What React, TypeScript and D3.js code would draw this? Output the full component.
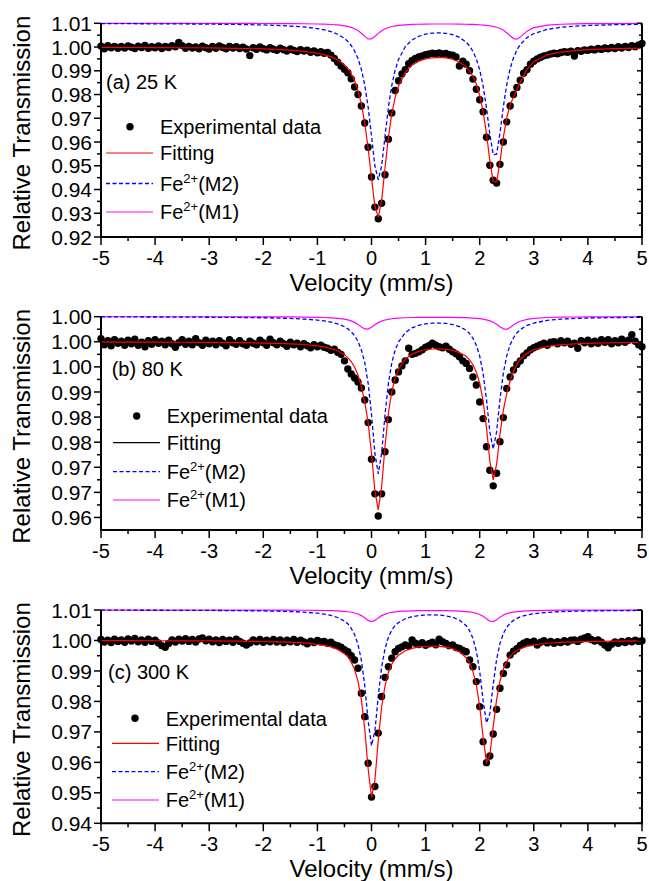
import React from 'react';
import * as d3 from 'd3';

const FONT = "'Liberation Sans', Arial, Helvetica, sans-serif";

// shared channel velocities (mm/s)
const velocity = [
  -5,-4.9375,-4.875,-4.8125,-4.75,-4.6875,-4.625,-4.5625,-4.5,-4.4375,-4.375,-4.3125,-4.25,-4.1875,-4.125,-4.0625,
  -4,-3.9375,-3.875,-3.8125,-3.75,-3.6875,-3.625,-3.5625,-3.5,-3.4375,-3.375,-3.3125,-3.25,-3.1875,-3.125,-3.0625,
  -3,-2.9375,-2.875,-2.8125,-2.75,-2.6875,-2.625,-2.5625,-2.5,-2.4375,-2.375,-2.3125,-2.25,-2.1875,-2.125,-2.0625,
  -2,-1.9375,-1.875,-1.8125,-1.75,-1.6875,-1.625,-1.5625,-1.5,-1.4375,-1.375,-1.3125,-1.25,-1.1875,-1.125,-1.0625,
  -1,-0.9375,-0.875,-0.8125,-0.75,-0.6875,-0.625,-0.5625,-0.5,-0.4375,-0.375,-0.3125,-0.25,-0.1875,-0.125,-0.0625,
  0,0.0625,0.125,0.1875,0.25,0.3125,0.375,0.4375,0.5,0.5625,0.625,0.6875,0.75,0.8125,0.875,0.9375,
  1,1.0625,1.125,1.1875,1.25,1.3125,1.375,1.4375,1.5,1.5625,1.625,1.6875,1.75,1.8125,1.875,1.9375,
  2,2.0625,2.125,2.1875,2.25,2.3125,2.375,2.4375,2.5,2.5625,2.625,2.6875,2.75,2.8125,2.875,2.9375,
  3,3.0625,3.125,3.1875,3.25,3.3125,3.375,3.4375,3.5,3.5625,3.625,3.6875,3.75,3.8125,3.875,3.9375,
  4,4.0625,4.125,4.1875,4.25,4.3125,4.375,4.4375,4.5,4.5625,4.625,4.6875,4.75,4.8125,4.875,4.9375,
  5
];

// experimental data (relative transmission)
const transA = [
  1.0004,0.9993,1.0006,0.9997,1.0003,0.9995,1.0002,0.9996,1.0005,0.9999,0.9994,1.0004,0.9998,1.0007,0.9995,1.0001,
  0.9997,1.0005,0.9994,1.0002,0.9998,1.0006,1.0001,1.0019,1.0006,0.9995,1.0003,0.9996,1.0000,0.9993,1.0004,0.9997,
  0.9992,1.0003,0.9995,1.0005,0.9998,0.9993,1.0002,0.9996,1.0001,0.9994,0.9999,0.9992,0.9964,0.9997,0.9991,1.0000,
  0.9993,0.9988,0.9997,0.9991,0.9986,0.9995,0.9989,0.9983,0.9992,0.9986,0.9981,0.9989,0.9983,0.9987,0.9978,0.9984,
  0.9976,0.9980,0.9974,0.9977,0.9966,0.9952,0.9936,0.9920,0.9906,0.9892,0.9866,0.9832,0.9800,0.9752,0.9680,0.9578,
  0.9453,0.9326,0.9277,0.9342,0.9462,0.9612,0.9722,0.9817,0.9858,0.9887,0.9905,0.9930,0.9944,0.9952,0.9958,0.9963,
  0.9968,0.9971,0.9974,0.9972,0.9975,0.9971,0.9973,0.9968,0.9966,0.9958,0.9920,0.9940,0.9928,0.9900,0.9865,0.9822,
  0.9778,0.9728,0.9620,0.9502,0.9439,0.9427,0.9506,0.9600,0.9685,0.9752,0.9800,0.9830,0.9860,0.9890,0.9905,0.9928,
  0.9940,0.9950,0.9957,0.9963,0.9966,0.9971,0.9974,0.9972,0.9977,0.9980,0.9978,0.9983,0.9962,0.9985,0.9982,0.9988,
  0.9986,0.9991,0.9988,0.9994,0.9990,0.9996,0.9993,0.9998,0.9994,1.0001,0.9996,1.0003,0.9998,1.0006,1.0001,1.0009,
  1.0015
];
const transB = [
  1.0006,0.9994,1.0002,0.9992,1.0004,0.9997,1.0001,0.9993,1.0003,0.9996,1.0005,0.9993,0.9999,0.9990,1.0002,0.9995,
  1.0004,0.9997,1.0001,0.9994,1.0003,0.9996,0.9989,0.9998,1.0004,0.9995,1.0001,0.9994,1.0006,0.9998,0.9993,1.0003,
  0.9996,1.0001,0.9994,1.0002,0.9997,0.9992,1.0004,0.9998,0.9995,1.0002,0.9996,0.9993,1.0001,0.9997,0.9994,1.0003,
  0.9998,0.9993,1.0005,0.9998,0.9994,1.0001,0.9996,0.9991,0.9999,0.9994,0.9997,0.9990,0.9996,0.9992,0.9988,0.9994,
  0.9990,0.9993,0.9989,0.9987,0.9983,0.9985,0.9979,0.9975,0.9962,0.9946,0.9936,0.9928,0.9920,0.9908,0.9884,0.9839,
  0.9766,0.9697,0.9653,0.9697,0.9781,0.9845,0.9900,0.9924,0.9940,0.9952,0.9962,0.9987,0.9975,0.9977,0.9980,0.9984,
  0.9989,0.9992,0.9997,0.9993,0.9990,0.9988,0.9991,0.9985,0.9980,0.9976,0.9970,0.9962,0.9957,0.9947,0.9930,0.9914,
  0.9880,0.9847,0.9791,0.9744,0.9713,0.9738,0.9801,0.9849,0.9907,0.9930,0.9944,0.9955,0.9962,0.9972,0.9978,0.9984,
  0.9988,0.9991,0.9994,0.9997,0.9993,0.9999,1.0000,0.9996,1.0002,0.9998,1.0001,0.9995,0.9997,0.9987,1.0002,0.9998,
  1.0003,0.9996,1.0001,0.9997,1.0004,0.9999,1.0004,0.9996,1.0002,0.9998,1.0005,0.9999,1.0003,1.0014,1.0001,0.9994,
  0.9990
];
const transC = [
  1.0003,0.9995,1.0001,0.9993,1.0004,0.9997,1.0002,0.9994,1.0005,0.9998,1.0007,0.9996,1.0002,0.9994,1.0004,0.9997,
  1.0001,0.9992,0.9983,0.9978,0.9990,1.0002,0.9995,1.0004,0.9998,1.0006,0.9997,1.0003,0.9995,1.0005,1.0008,0.9999,
  1.0004,0.9996,1.0002,0.9993,1.0003,0.9997,1.0001,0.9994,1.0004,0.9997,0.9991,0.9985,0.9992,1.0002,0.9996,1.0003,
  0.9994,1.0001,0.9996,1.0003,0.9995,1.0002,0.9993,1.0001,0.9996,1.0003,0.9994,1.0001,0.9995,0.9989,0.9998,0.9993,
  1.0000,0.9995,0.9997,0.9991,0.9994,0.9986,0.9983,0.9978,0.9970,0.9963,0.9950,0.9936,0.9909,0.9827,0.9750,0.9597,
  0.9486,0.9521,0.9696,0.9816,0.9879,0.9914,0.9942,0.9963,0.9974,0.9979,0.9985,0.9982,1.0002,0.9991,0.9987,0.9993,
  0.9984,0.9989,0.9994,0.9986,1.0004,0.9996,0.9990,0.9983,0.9985,0.9977,0.9974,0.9967,0.9963,0.9936,0.9914,0.9865,
  0.9783,0.9668,0.9599,0.9621,0.9693,0.9774,0.9843,0.9892,0.9920,0.9952,0.9965,0.9973,0.9984,0.9991,0.9996,0.9993,
  0.9998,0.9985,0.9994,0.9999,0.9992,0.9997,0.9991,0.9996,0.9993,0.9999,0.9995,1.0001,1.0002,0.9997,1.0004,1.0008,
  1.0012,1.0003,0.9998,1.0002,0.9994,0.9985,0.9976,0.9988,0.9995,0.9991,0.9997,0.9993,0.9999,0.9996,1.0001,0.9997,
  0.9999
];

// velocities at which the fitted curves are drawn
const curveVelocity = [
  -5,-4.5,-4,-3.5,-3,-2.5,-2,-1.75,-1.5,-1.25,-1,-0.875,-0.75,-0.625,-0.5,
  -0.4375,-0.375,-0.3125,-0.25,-0.1875,-0.125,-0.0625,0,0.0625,0.125,0.1875,0.25,0.3125,0.375,0.4375,0.5,
  0.625,0.75,0.875,1,1.125,1.25,1.375,1.5,1.625,1.75,1.8125,1.875,1.9375,2,
  2.0625,2.125,2.1875,2.25,2.3125,2.375,2.4375,2.5,2.5625,2.625,2.6875,2.75,
  2.875,3,3.25,3.5,3.75,4,4.5,5
];

const fitA = [
  0.99985,0.99981,0.99977,0.9997,0.99961,0.99947,0.99922,0.99901,0.99872,0.99815,0.9974,0.99682,0.99594,0.99459,0.99246,
  0.99086,0.98873,0.98583,0.98177,0.97602,0.968,0.95744,0.94487,0.93304,0.92839,0.93543,0.94904,0.96208,0.97192,0.97882,0.98358,
  0.98933,0.99236,0.99406,0.995,0.99548,0.99563,0.99543,0.99486,0.99372,0.99165,0.98997,0.98768,0.98443,0.97971,
  0.9729,0.9635,0.9522,0.94334,0.94324,0.95162,0.96204,0.97025,0.9756,0.979,0.982,0.9852,
  0.99066,0.99384,0.99672,0.9979,0.99853,0.99891,0.99931,0.99954
];
const m2A = [
  1.00986,1.00983,1.00979,1.00973,1.00965,1.00952,1.0093,1.00911,1.00885,1.00846,1.00779,1.00726,1.00651,1.0054,1.00363,
  1.00236,1.00066,0.99836,0.99516,0.99063,0.98409,0.9748,0.96254,0.94997,0.94412,0.94991,0.96243,0.97463,0.98387,0.99035,0.99481,
  1.00017,1.00298,1.00455,1.00542,1.00585,1.00597,1.00576,1.00519,1.0041,1.00206,1.00043,0.99819,0.99499,0.99036,
  0.98366,0.97438,0.96327,0.95466,0.95491,0.9638,0.97496,0.98421,0.99087,0.9955,0.99874,1.00104,
  1.00397,1.00568,1.00746,1.0083,1.00878,1.00908,1.00941,1.00959
];
const m1A = [
  1.00999,1.00998,1.00998,1.00997,1.00996,1.00995,1.00992,1.0099,1.00986,1.00981,1.00971,1.00962,1.0095,1.0093,1.00894,
  1.00867,1.00828,1.00773,1.00694,1.00583,1.0045,1.00344,1.00341,1.00444,1.00577,1.00689,1.00769,1.00825,1.00864,1.00891,1.0091,
  1.00937,1.00952,1.00961,1.00966,1.0097,1.00971,1.00971,1.0097,1.00967,1.00961,1.00957,1.00952,1.00947,1.00938,
  1.00927,1.00914,1.00896,1.0087,1.00835,1.00784,1.0071,1.00606,1.00475,1.00357,1.00331,1.00418,
  1.00669,1.00816,1.00926,1.0096,1.00975,1.00983,1.0099,1.00995
];
const fitB = [
  0.99995,0.99994,0.99993,0.99991,0.99988,0.99984,0.99975,0.99969,0.9996,0.99946,0.99917,0.99897,0.99867,0.9982,0.99744,
  0.99686,0.99607,0.99496,0.99337,0.99111,0.98798,0.98388,0.9778,0.97035,0.9665,0.97107,0.97922,0.98578,0.99009,0.99284,0.99452,
  0.99653,0.99754,0.99808,0.99842,0.99856,0.9986,0.99851,0.99828,0.99785,0.9971,0.99639,0.99542,0.99398,0.99176,
  0.98824,0.98289,0.97624,0.9725,0.97559,0.98156,0.98637,0.98972,0.99223,0.99414,0.99554,0.99652,
  0.99773,0.99841,0.9991,0.99941,0.99959,0.99969,0.99981,0.99987
];
const m2B = [
  1.00496,1.00495,1.00494,1.00492,1.00489,1.00485,1.00479,1.00473,1.00465,1.00453,1.00432,1.00415,1.00392,1.00356,1.003,
  1.00258,1.00201,1.00123,1.0001,0.99842,0.99583,0.99176,0.98552,0.97782,0.97368,0.97781,0.9855,0.99172,0.99579,0.99837,0.99997,
  1.00183,1.00279,1.00329,1.00357,1.0037,1.00373,1.00365,1.00343,1.00302,1.0023,1.00163,1.0007,0.99931,0.99716,
  0.99374,0.98852,0.98207,0.97861,0.98209,0.98855,0.99379,0.99723,0.9994,1.00081,1.00176,1.00243,
  1.00326,1.00374,1.00427,1.00451,1.00465,1.00473,1.00483,1.00488
];
const m1B = [
  1.005,1.00499,1.00499,1.00499,1.00499,1.00498,1.00497,1.00496,1.00495,1.00492,1.00488,1.00484,1.00478,1.00468,1.00451,
  1.00437,1.00417,1.00387,1.00347,1.00297,1.00256,1.00254,1.0029,1.0034,1.00382,1.00413,1.00434,1.00448,1.00459,1.00467,1.00471,
  1.00479,1.00484,1.00486,1.00488,1.00488,1.00489,1.00487,1.00486,1.00483,1.0048,1.00476,1.00472,1.00467,1.0046,
  1.0045,1.00437,1.00417,1.00389,1.0035,1.00301,1.00258,1.00249,1.00284,1.00333,1.00378,1.00409,
  1.00448,1.00468,1.00484,1.0049,1.00494,1.00496,1.00498,1.00499
];
const fitC = [
  0.99994,0.99992,0.99991,0.99988,0.99984,0.99978,0.99966,0.99957,0.99944,0.99922,0.99875,0.99841,0.99789,0.99707,0.99566,
  0.99468,0.99289,0.99047,0.98669,0.98064,0.97101,0.9579,0.94868,0.95404,0.96729,0.97817,0.98514,0.98947,0.99222,0.99401,0.99513,
  0.99662,0.99742,0.99787,0.9981,0.99817,0.99809,0.99784,0.99731,0.99632,0.99434,0.99259,0.98985,0.98546,0.9784,
  0.96833,0.96007,0.96234,0.97182,0.98061,0.9867,0.99062,0.99313,0.99479,0.99591,0.99671,0.99729,
  0.99808,0.99856,0.99908,0.99939,0.99955,0.99965,0.99978,0.99984
];
const m2C = [
  1.00994,1.00993,1.00992,1.00989,1.00986,1.0098,1.0097,1.00962,1.0095,1.00931,1.00895,1.00866,1.00823,1.00754,1.00634,
  1.00552,1.004,1.00195,0.99874,0.99356,0.98523,0.97372,0.96547,0.97013,0.98177,0.99127,0.99732,1.00105,1.0034,1.00494,1.00587,
  1.00713,1.00781,1.00818,1.00837,1.00841,1.00833,1.00809,1.00761,1.0067,1.00487,1.00323,1.00067,0.99654,0.98987,
  0.9804,0.97294,0.97597,0.9856,0.99378,0.99904,1.00228,1.00433,1.00568,1.00659,1.00725,1.00773,
  1.00838,1.00879,1.00922,1.00946,1.0096,1.00969,1.0098,1.00986
];
const m1C = [
  1.00999,1.00999,1.00999,1.00998,1.00998,1.00997,1.00996,1.00995,1.00994,1.00991,1.00986,1.00983,1.00977,1.00969,1.00954,
  1.00943,1.00927,1.00903,1.00868,1.00816,1.00742,1.00659,1.00618,1.00658,1.00741,1.00815,1.00866,1.00901,1.00925,1.0094,1.00952,
  1.00966,1.00973,1.00978,1.0098,1.00981,1.0098,1.00978,1.00973,1.00964,1.00949,1.00936,1.00918,1.00892,1.00853,
  1.00793,1.00713,1.00637,1.00622,1.00683,1.00766,1.00834,1.0088,1.00912,1.00933,1.00947,1.00957,
  1.00971,1.00978,1.00987,1.00993,1.00995,1.00996,1.00998,1.00998
];

// axis ticks
const xTickValues = [-5, -4, -3, -2, -1, 0, 1, 2, 3, 4, 5];
const xTickLabels = ['-5', '-4', '-3', '-2', '-1', '0', '1', '2', '3', '4', '5'];
const yTicksA = [1.01, 1.0, 0.99, 0.98, 0.97, 0.96, 0.95, 0.94, 0.93, 0.92];
const yLabelsA = ['1.01', '1.00', '0.99', '0.98', '0.97', '0.96', '0.95', '0.94', '0.93', '0.92'];
const yTicksB = [1.005, 1.0, 0.995, 0.99, 0.985, 0.98, 0.975, 0.97, 0.965];
const yLabelsB = ['1.00', '1.00', '1.00', '0.99', '0.98', '0.98', '0.97', '0.97', '0.96'];
const yTicksC = [1.01, 1.0, 0.99, 0.98, 0.97, 0.96, 0.95, 0.94];
const yLabelsC = ['1.01', '1.00', '0.99', '0.98', '0.97', '0.96', '0.95', '0.94'];

const legendLabels = ['Experimental data', 'Fitting', '(M2)', '(M1)'];
const panelLabels = ['(a) 25 K', '(b) 80 K', '(c) 300 K'];
const xTitle = 'Velocity (mm/s)';
const yTitle = 'Relative Transmission';

const X0 = 101, X1 = 642;

function Panel(props: any) {
  const { top, bottom, yDomain, yTicks, yLabels, trans, fit, m2, m1, label, labelPos, legend, fitLegendColor } = props;
  const x = d3.scaleLinear().domain([-5, 5]).range([X0, X1]);
  const y = d3.scaleLinear().domain(yDomain).range([bottom, top]);
  const line = d3.line<number>().x((_, i) => x(curveVelocity[i])).y((d) => y(d));
  const minorY: number[] = [];
  for (let i = 0; i < yTicks.length - 1; i++) minorY.push((yTicks[i] + yTicks[i + 1]) / 2);
  const minorX: number[] = [];
  for (let i = 0; i < xTickValues.length - 1; i++) minorX.push((xTickValues[i] + xTickValues[i + 1]) / 2);
  const tickFs = 21;
  const xTickFs = 20;
  const legFs = 20;
  const rows = legend.rows;
  return (
    <g>
      {/* curves */}
      <path d={line(m1) || ''} fill="none" stroke="#ff00ff" strokeWidth={1.2} />
      <path d={line(m2) || ''} fill="none" stroke="#0000ff" strokeWidth={1.3} strokeDasharray="4,2.5" />
      {trans.map((t: number, i: number) => (
        <circle key={i} cx={x(velocity[i])} cy={y(t)} r={3.7} fill="#000" />
      ))}
      <path d={line(fit) || ''} fill="none" stroke="#ff0000" strokeWidth={1.2} />

      {/* axes */}
      <line x1={X0} x2={X0} y1={top} y2={bottom + 1} stroke="#000" strokeWidth={2} />
      <line x1={X1} x2={X1} y1={top} y2={bottom + 1} stroke="#000" strokeWidth={2} />
      <line x1={X0 - 1} x2={X1 + 1} y1={bottom} y2={bottom} stroke="#000" strokeWidth={2} />
      {yTicks.map((v: number, i: number) => (
        <g key={'yt' + i}>
          <line x1={X0 - 7} x2={X0} y1={y(v)} y2={y(v)} stroke="#000" strokeWidth={1.5} />
          <line x1={X1 - 5} x2={X1} y1={y(v)} y2={y(v)} stroke="#000" strokeWidth={1.5} />
          <text x={X0 - 9} y={y(v) + tickFs * 0.36} fontSize={tickFs} textAnchor="end" fontFamily={FONT}>{yLabels[i]}</text>
        </g>
      ))}
      {minorY.map((v, i) => (
        <g key={'ym' + i}>
          <line x1={X0 - 4} x2={X0} y1={y(v)} y2={y(v)} stroke="#000" strokeWidth={1.5} />
          <line x1={X1 - 3} x2={X1} y1={y(v)} y2={y(v)} stroke="#000" strokeWidth={1.5} />
        </g>
      ))}
      {xTickValues.map((v, i) => (
        <g key={'xt' + i}>
          <line x1={x(v)} x2={x(v)} y1={bottom} y2={bottom + 8} stroke="#000" strokeWidth={1.5} />
          <text x={x(v)} y={bottom + 27.5} fontSize={xTickFs} textAnchor="middle" fontFamily={FONT}>{xTickLabels[i]}</text>
        </g>
      ))}
      {minorX.map((v, i) => (
        <line key={'xm' + i} x1={x(v)} x2={x(v)} y1={bottom} y2={bottom + 4} stroke="#000" strokeWidth={1.5} />
      ))}
      <text x={(X0 + X1) / 2} y={bottom + 53.5} fontSize={24} textAnchor="middle" fontFamily={FONT}>{xTitle}</text>
      <text transform={`translate(30,${(top + bottom) / 2 + 3}) rotate(-90)`} fontSize={24} textAnchor="middle" fontFamily={FONT}>{yTitle}</text>

      {/* panel label */}
      <text x={labelPos[0]} y={labelPos[1] + legFs * 0.36} fontSize={legFs} fontFamily={FONT}>{label}</text>

      {/* legend */}
      <circle cx={legend.dotX} cy={rows[0]} r={3.7} fill="#000" />
      <text x={legend.textX} y={rows[0] + legFs * 0.36} fontSize={legFs} fontFamily={FONT}>{legendLabels[0]}</text>
      <line x1={legend.x1} x2={legend.x2} y1={rows[1]} y2={rows[1]} stroke={fitLegendColor} strokeWidth={1.2} />
      <text x={legend.textX} y={rows[1] + legFs * 0.36} fontSize={legFs} fontFamily={FONT}>{legendLabels[1]}</text>
      <line x1={legend.x1} x2={legend.x2} y1={rows[2]} y2={rows[2]} stroke="#0000ff" strokeWidth={1.3} strokeDasharray="4,2.5" />
      <text x={legend.textX} y={rows[2] + legFs * 0.36} fontSize={legFs} fontFamily={FONT}>
        Fe<tspan dy={-8} fontSize={13}>2+</tspan><tspan dy={8} fontSize={legFs}>{legendLabels[2]}</tspan>
      </text>
      <line x1={legend.x1} x2={legend.x2} y1={rows[3]} y2={rows[3]} stroke="#ff00ff" strokeWidth={1.2} />
      <text x={legend.textX} y={rows[3] + legFs * 0.36} fontSize={legFs} fontFamily={FONT}>
        Fe<tspan dy={-8} fontSize={13}>2+</tspan><tspan dy={8} fontSize={legFs}>{legendLabels[3]}</tspan>
      </text>
    </g>
  );
}

export default function App() {
  return (
    <svg width={649} height={881} style={{ position: 'absolute', left: 0, top: 0, background: '#fff' }}>
      <rect x={0} y={0} width={649} height={881} fill="#fff" />
      <Panel
        top={23.3} bottom={237} yDomain={[0.92, 1.01]} yTicks={yTicksA} yLabels={yLabelsA}
        trans={transA} fit={fitA} m2={m2A} m1={m1A} label={panelLabels[0]} labelPos={[106, 81.7]}
        legend={{ dotX: 130, x1: 106, x2: 153, textX: 160, rows: [126.7, 153, 183.5, 212] }}
        fitLegendColor="#ff0000"
      />
      <Panel
        top={316.7} bottom={530} yDomain={[0.9625, 1.005]} yTicks={yTicksB} yLabels={yLabelsB}
        trans={transB} fit={fitB} m2={m2B} m1={m1B} label={panelLabels[1]} labelPos={[111.7, 368.3]}
        legend={{ dotX: 136.7, x1: 113, x2: 160, textX: 166.7, rows: [416, 442.7, 471.7, 500] }}
        fitLegendColor="#000000"
      />
      <Panel
        top={610} bottom={823.3} yDomain={[0.94, 1.01]} yTicks={yTicksC} yLabels={yLabelsC}
        trans={transC} fit={fitC} m2={m2C} m1={m1C} label={panelLabels[2]} labelPos={[108, 671.7]}
        legend={{ dotX: 135, x1: 112, x2: 159, textX: 165.7, rows: [718.3, 743.3, 771.7, 800] }}
        fitLegendColor="#ff0000"
      />
    </svg>
  );
}
